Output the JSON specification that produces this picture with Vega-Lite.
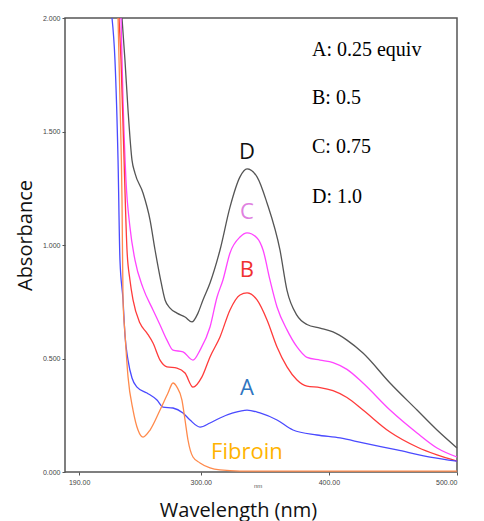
{
  "$schema": "https://vega.github.io/schema/vega-lite/v6.json",
  "width": 392,
  "height": 454,
  "autosize": {"type": "none"},
  "padding": {"left": 65, "top": 18, "right": 27, "bottom": 49},
  "background": "white",
  "config": {
    "view": {"stroke": "#555555", "strokeWidth": 1.5},
    "axis": {"domain": false, "grid": false, "labelFont": "Liberation Sans", "labelFontSize": 7, "labelColor": "#444444", "tickColor": "#555555", "tickSize": 3, "titleFont": "Open Sans", "titleFontWeight": "normal", "titleFontSize": 20, "titleColor": "#111111"}
  },
  "datasets": {
    "spectra": [
      {"series": "D", "nm": 238.5, "abs": 2.0},
      {"series": "D", "nm": 240.8, "abs": 1.815},
      {"series": "D", "nm": 243.2, "abs": 1.595},
      {"series": "D", "nm": 246.3, "abs": 1.374},
      {"series": "D", "nm": 248.6, "abs": 1.317},
      {"series": "D", "nm": 254.9, "abs": 1.229},
      {"series": "D", "nm": 260.4, "abs": 1.11},
      {"series": "D", "nm": 264.3, "abs": 0.978},
      {"series": "D", "nm": 268.2, "abs": 0.859},
      {"series": "D", "nm": 272.1, "abs": 0.758},
      {"series": "D", "nm": 276.0, "abs": 0.722},
      {"series": "D", "nm": 281.4, "abs": 0.7},
      {"series": "D", "nm": 287.7, "abs": 0.683},
      {"series": "D", "nm": 293.1, "abs": 0.661},
      {"series": "D", "nm": 297.8, "abs": 0.7},
      {"series": "D", "nm": 301.7, "abs": 0.758},
      {"series": "D", "nm": 307.2, "abs": 0.833},
      {"series": "D", "nm": 315.0, "abs": 0.978},
      {"series": "D", "nm": 322.8, "abs": 1.167},
      {"series": "D", "nm": 330.6, "abs": 1.3},
      {"series": "D", "nm": 336.1, "abs": 1.335},
      {"series": "D", "nm": 343.9, "abs": 1.3},
      {"series": "D", "nm": 351.7, "abs": 1.185},
      {"series": "D", "nm": 361.8, "abs": 0.978},
      {"series": "D", "nm": 367.3, "abs": 0.8},
      {"series": "D", "nm": 375.1, "abs": 0.69},
      {"series": "D", "nm": 382.9, "abs": 0.65},
      {"series": "D", "nm": 393.1, "abs": 0.634},
      {"series": "D", "nm": 403.2, "abs": 0.617},
      {"series": "D", "nm": 414.1, "abs": 0.581},
      {"series": "D", "nm": 426.6, "abs": 0.524},
      {"series": "D", "nm": 447.7, "abs": 0.392},
      {"series": "D", "nm": 468.8, "abs": 0.273},
      {"series": "D", "nm": 484.4, "abs": 0.185},
      {"series": "D", "nm": 500.0, "abs": 0.106},

      {"series": "C", "nm": 237.7, "abs": 2.0},
      {"series": "C", "nm": 239.3, "abs": 1.639},
      {"series": "C", "nm": 241.6, "abs": 1.286},
      {"series": "C", "nm": 244.7, "abs": 1.079},
      {"series": "C", "nm": 248.6, "abs": 0.934},
      {"series": "C", "nm": 254.9, "abs": 0.811},
      {"series": "C", "nm": 262.7, "abs": 0.714},
      {"series": "C", "nm": 268.2, "abs": 0.648},
      {"series": "C", "nm": 273.6, "abs": 0.581},
      {"series": "C", "nm": 278.3, "abs": 0.537},
      {"series": "C", "nm": 286.1, "abs": 0.529},
      {"series": "C", "nm": 293.9, "abs": 0.493},
      {"series": "C", "nm": 299.4, "abs": 0.537},
      {"series": "C", "nm": 307.2, "abs": 0.639},
      {"series": "C", "nm": 312.7, "abs": 0.771},
      {"series": "C", "nm": 317.3, "abs": 0.846},
      {"series": "C", "nm": 322.8, "abs": 0.965},
      {"series": "C", "nm": 330.6, "abs": 1.035},
      {"series": "C", "nm": 336.1, "abs": 1.053},
      {"series": "C", "nm": 343.9, "abs": 1.031},
      {"series": "C", "nm": 348.6, "abs": 0.978},
      {"series": "C", "nm": 354.0, "abs": 0.846},
      {"series": "C", "nm": 359.5, "abs": 0.727},
      {"series": "C", "nm": 367.3, "abs": 0.626},
      {"series": "C", "nm": 375.1, "abs": 0.551},
      {"series": "C", "nm": 382.9, "abs": 0.505},
      {"series": "C", "nm": 393.1, "abs": 0.493},
      {"series": "C", "nm": 403.2, "abs": 0.482},
      {"series": "C", "nm": 414.1, "abs": 0.452},
      {"series": "C", "nm": 426.6, "abs": 0.392},
      {"series": "C", "nm": 447.7, "abs": 0.273},
      {"series": "C", "nm": 468.8, "abs": 0.172},
      {"series": "C", "nm": 484.4, "abs": 0.106},
      {"series": "C", "nm": 500.0, "abs": 0.066},

      {"series": "B", "nm": 236.2, "abs": 2.0},
      {"series": "B", "nm": 237.7, "abs": 1.815},
      {"series": "B", "nm": 240.1, "abs": 1.374},
      {"series": "B", "nm": 242.4, "abs": 0.978},
      {"series": "B", "nm": 244.7, "abs": 0.846},
      {"series": "B", "nm": 247.1, "abs": 0.758},
      {"series": "B", "nm": 252.5, "abs": 0.656},
      {"series": "B", "nm": 258.0, "abs": 0.612},
      {"series": "B", "nm": 262.7, "abs": 0.568},
      {"series": "B", "nm": 268.2, "abs": 0.493},
      {"series": "B", "nm": 273.6, "abs": 0.463},
      {"series": "B", "nm": 281.4, "abs": 0.458},
      {"series": "B", "nm": 287.7, "abs": 0.436},
      {"series": "B", "nm": 293.9, "abs": 0.374},
      {"series": "B", "nm": 300.9, "abs": 0.419},
      {"series": "B", "nm": 307.2, "abs": 0.507},
      {"series": "B", "nm": 315.0, "abs": 0.595},
      {"series": "B", "nm": 322.8, "abs": 0.714},
      {"series": "B", "nm": 330.6, "abs": 0.78},
      {"series": "B", "nm": 336.1, "abs": 0.789},
      {"series": "B", "nm": 343.9, "abs": 0.758},
      {"series": "B", "nm": 351.7, "abs": 0.67},
      {"series": "B", "nm": 359.5, "abs": 0.551},
      {"series": "B", "nm": 367.3, "abs": 0.463},
      {"series": "B", "nm": 375.1, "abs": 0.405},
      {"series": "B", "nm": 382.9, "abs": 0.378},
      {"series": "B", "nm": 393.1, "abs": 0.372},
      {"series": "B", "nm": 403.2, "abs": 0.358},
      {"series": "B", "nm": 414.1, "abs": 0.328},
      {"series": "B", "nm": 426.6, "abs": 0.273},
      {"series": "B", "nm": 447.7, "abs": 0.176},
      {"series": "B", "nm": 468.8, "abs": 0.11},
      {"series": "B", "nm": 484.4, "abs": 0.075},
      {"series": "B", "nm": 500.0, "abs": 0.048},

      {"series": "A", "nm": 230.7, "abs": 2.0},
      {"series": "A", "nm": 233.0, "abs": 1.815},
      {"series": "A", "nm": 235.4, "abs": 1.374},
      {"series": "A", "nm": 236.9, "abs": 0.934},
      {"series": "A", "nm": 239.3, "abs": 0.758},
      {"series": "A", "nm": 240.8, "abs": 0.604},
      {"series": "A", "nm": 243.2, "abs": 0.493},
      {"series": "A", "nm": 246.3, "abs": 0.414},
      {"series": "A", "nm": 250.2, "abs": 0.374},
      {"series": "A", "nm": 258.0, "abs": 0.348},
      {"series": "A", "nm": 265.8, "abs": 0.317},
      {"series": "A", "nm": 270.5, "abs": 0.286},
      {"series": "A", "nm": 278.3, "abs": 0.282},
      {"series": "A", "nm": 286.1, "abs": 0.26},
      {"series": "A", "nm": 291.6, "abs": 0.229},
      {"series": "A", "nm": 299.4, "abs": 0.198},
      {"series": "A", "nm": 307.2, "abs": 0.216},
      {"series": "A", "nm": 315.0, "abs": 0.238},
      {"series": "A", "nm": 325.1, "abs": 0.26},
      {"series": "A", "nm": 336.1, "abs": 0.273},
      {"series": "A", "nm": 346.2, "abs": 0.26},
      {"series": "A", "nm": 359.5, "abs": 0.229},
      {"series": "A", "nm": 372.0, "abs": 0.185},
      {"series": "A", "nm": 390.7, "abs": 0.163},
      {"series": "A", "nm": 408.7, "abs": 0.15},
      {"series": "A", "nm": 426.6, "abs": 0.128},
      {"series": "A", "nm": 453.2, "abs": 0.097},
      {"series": "A", "nm": 479.0, "abs": 0.066},
      {"series": "A", "nm": 500.0, "abs": 0.048},

      {"series": "Fibroin", "nm": 235.4, "abs": 2.0},
      {"series": "Fibroin", "nm": 236.9, "abs": 1.639},
      {"series": "Fibroin", "nm": 238.5, "abs": 1.198},
      {"series": "Fibroin", "nm": 239.3, "abs": 0.758},
      {"series": "Fibroin", "nm": 240.8, "abs": 0.612},
      {"series": "Fibroin", "nm": 243.2, "abs": 0.419},
      {"series": "Fibroin", "nm": 247.1, "abs": 0.273},
      {"series": "Fibroin", "nm": 251.0, "abs": 0.185},
      {"series": "Fibroin", "nm": 254.9, "abs": 0.154},
      {"series": "Fibroin", "nm": 260.4, "abs": 0.185},
      {"series": "Fibroin", "nm": 268.2, "abs": 0.273},
      {"series": "Fibroin", "nm": 274.4, "abs": 0.348},
      {"series": "Fibroin", "nm": 278.3, "abs": 0.392},
      {"series": "Fibroin", "nm": 281.4, "abs": 0.374},
      {"series": "Fibroin", "nm": 285.3, "abs": 0.317},
      {"series": "Fibroin", "nm": 287.7, "abs": 0.229},
      {"series": "Fibroin", "nm": 290.0, "abs": 0.141},
      {"series": "Fibroin", "nm": 293.9, "abs": 0.066},
      {"series": "Fibroin", "nm": 299.4, "abs": 0.04},
      {"series": "Fibroin", "nm": 307.2, "abs": 0.018},
      {"series": "Fibroin", "nm": 315.0, "abs": 0.009},
      {"series": "Fibroin", "nm": 330.6, "abs": 0.004},
      {"series": "Fibroin", "nm": 500.0, "abs": 0.004}
    ],
    "curveLabels": [
      {"key": "A", "text": "A", "nm": 336, "abs": 0.37},
      {"key": "B", "text": "B", "nm": 336, "abs": 0.89},
      {"key": "C", "text": "C", "nm": 336, "abs": 1.145},
      {"key": "D", "text": "D", "nm": 336, "abs": 1.41},
      {"key": "Fibroin", "text": "Fibroin", "nm": 336, "abs": 0.088}
    ],
    "legendText": [
      {"text": "A: 0.25 equiv", "nm": 386.8, "abs": 1.859},
      {"text": "B: 0.5", "nm": 386.8, "abs": 1.648},
      {"text": "C: 0.75", "nm": 386.8, "abs": 1.432},
      {"text": "D: 1.0", "nm": 386.8, "abs": 1.211}
    ],
    "unitText": [
      {"text": "nm", "nm": 344.7, "abs": -0.062}
    ]
  },
  "layer": [
    {
      "data": {"name": "spectra"},
      "mark": {"type": "line", "strokeWidth": 1.3, "interpolate": "monotone"},
      "encoding": {
        "x": {"field": "nm", "type": "quantitative", "scale": {"domain": [194, 500], "nice": false, "zero": false},
          "axis": {"values": [205, 300, 400, 500], "labelExpr": "datum.value == 205 ? '190.00' : format(datum.value, '.2f')", "labelPadding": 3, "title": "Wavelength (nm)", "titleX": 173, "titleY": 38, "titleBaseline": "middle", "titleAnchor": null, "titleAlign": "center"}},
        "y": {"field": "abs", "type": "quantitative", "scale": {"domain": [0, 2], "nice": false, "zero": true},
          "axis": {"values": [0, 0.5, 1, 1.5, 2], "format": ".3f", "labelPadding": 2, "title": "Absorbance", "titleX": -40, "titleY": 217, "titleAngle": -90, "titleAlign": "center", "titleBaseline": "middle"}},
        "color": {"field": "series", "type": "nominal", "legend": null,
          "scale": {"domain": ["A", "B", "C", "D", "Fibroin"], "range": ["#4a4aff", "#ff3b3b", "#ff44ff", "#555555", "#ff8a4c"]}},
        "detail": {"field": "series"}
      }
    },
    {
      "data": {"name": "curveLabels"},
      "mark": {"type": "text", "font": "Open Sans", "fontSize": 22, "baseline": "middle", "align": "center"},
      "encoding": {
        "x": {"field": "nm", "type": "quantitative"},
        "y": {"field": "abs", "type": "quantitative"},
        "text": {"field": "text"},
        "color": {"field": "key", "type": "nominal", "legend": null,
          "scale": {"domain": ["A", "B", "C", "D", "Fibroin"], "range": ["#2f75c0", "#f03030", "#e080e0", "#111111", "#ffb300"]}}
      }
    },
    {
      "data": {"name": "legendText"},
      "mark": {"type": "text", "font": "Liberation Serif", "fontSize": 20, "baseline": "middle", "align": "left", "color": "#000000"},
      "encoding": {
        "x": {"field": "nm", "type": "quantitative"},
        "y": {"field": "abs", "type": "quantitative"},
        "text": {"field": "text"}
      }
    },
    {
      "data": {"name": "unitText"},
      "mark": {"type": "text", "font": "Liberation Sans", "fontSize": 6, "baseline": "middle", "align": "center", "color": "#555555"},
      "encoding": {
        "x": {"field": "nm", "type": "quantitative"},
        "y": {"field": "abs", "type": "quantitative"},
        "text": {"field": "text"}
      }
    }
  ],
  "resolve": {"scale": {"color": "independent"}}
}
